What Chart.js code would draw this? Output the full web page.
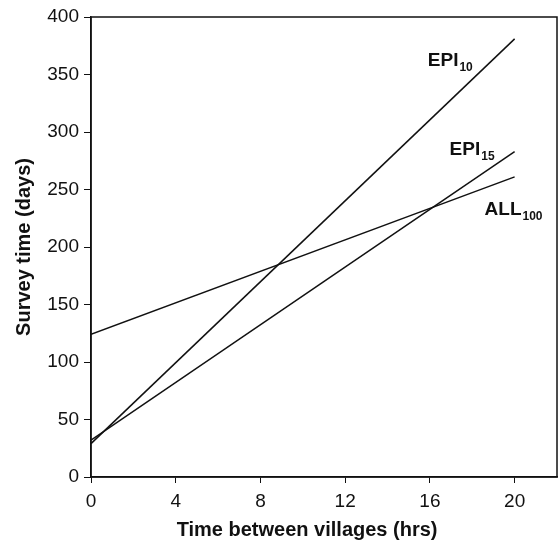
<!DOCTYPE html>
<html>
<head>
<meta charset="utf-8">
<script src="https://cdn.jsdelivr.net/npm/chart.js@4.4.0/dist/chart.umd.min.js"></script>
<style>
  html, body { margin: 0; padding: 0; background: #fff; }
  #wrap { width: 559px; height: 544px; }
</style>
</head>
<body>
<div id="wrap"><canvas id="surveyChart" width="559" height="544"></canvas></div>
<script>
// values
const hours = [0, 20];
const epi10 = [29, 381];
const epi15 = [32, 283];
const all100 = [124, 261];

const xTicks = [0, 4, 8, 12, 16, 20];
const yTicks = [0, 50, 100, 150, 200, 250, 300, 350, 400];

// line labels: main text, subscript, and where they sit (data units)
const lineLabels = [
    { text: "EPI", sub: "10", x: 15.9, y: 357 },
    { text: "EPI", sub: "15", x: 16.93, y: 280 },
    { text: "ALL", sub: "100", x: 18.58, y: 228 }
];

const xTitle = "Time between villages (hrs)";
const yTitle = "Survey time (days)";

const FONT = "'Liberation Sans', Arial, Helvetica, sans-serif";

function toPoints(ys) {
    return hours.map((h, i) => ({ x: h, y: ys[i] }));
}

// box around the plot, the line labels and the x title
const boxAndLabels = {
    id: "boxAndLabels",
    afterDatasetsDraw(chart) {
        const { ctx, chartArea, scales } = chart;
        ctx.save();
        ctx.strokeStyle = "#111";
        ctx.lineWidth = 1.5;
        ctx.strokeRect(chartArea.left, chartArea.top, chartArea.right - chartArea.left, chartArea.bottom - chartArea.top);

        ctx.fillStyle = "#111";
        ctx.textBaseline = "alphabetic";
        ctx.textAlign = "left";
        lineLabels.forEach(lb => {
            const px = scales.x.getPixelForValue(lb.x);
            const py = scales.y.getPixelForValue(lb.y);
            ctx.font = "bold 19px " + FONT;
            ctx.fillText(lb.text, px, py);
            const w = ctx.measureText(lb.text).width;
            ctx.font = "bold 12px " + FONT;
            ctx.fillText(lb.sub, px + w + 1, py + 5);
        });

        // x title sits a bit left of the plot centre in the original
        ctx.font = "bold 20px " + FONT;
        ctx.textAlign = "center";
        ctx.textBaseline = "middle";
        ctx.fillText(xTitle, scales.x.getPixelForValue(10.2), chartArea.bottom + 53);
        ctx.restore();
    }
};

const lineStyle = { borderColor: "#111", borderWidth: 1.5, pointRadius: 0, showLine: true, fill: false };

new Chart(document.getElementById("surveyChart"), {
    type: "scatter",
    data: {
        datasets: [
            Object.assign({ label: "EPI10", data: toPoints(epi10) }, lineStyle),
            Object.assign({ label: "EPI15", data: toPoints(epi15) }, lineStyle),
            Object.assign({ label: "ALL100", data: toPoints(all100) }, lineStyle)
        ]
    },
    options: {
        responsive: false,
        animation: false,
        layout: { padding: { top: 17, right: 2, left: 0, bottom: 0 } },
        plugins: { legend: { display: false }, tooltip: { enabled: false } },
        scales: {
            x: {
                type: "linear",
                min: 0,
                max: 22,
                afterBuildTicks: scale => { scale.ticks = xTicks.map(v => ({ value: v })); },
                afterFit: scale => { scale.height = 67; },
                grid: { display: true, drawOnChartArea: false, tickLength: 6, color: "#111", lineWidth: 1 },
                border: { display: true, color: "#111", width: 1.5 },
                ticks: { color: "#111", font: { family: FONT, size: 19 }, padding: 7, maxRotation: 0 },
                title: { display: false }
            },
            y: {
                type: "linear",
                min: 0,
                max: 400,
                afterBuildTicks: scale => { scale.ticks = yTicks.map(v => ({ value: v })); },
                afterFit: scale => { scale.width = 91; },
                grid: { display: true, drawOnChartArea: false, tickLength: 7, color: "#111", lineWidth: 1 },
                border: { display: true, color: "#111", width: 1.5 },
                ticks: { color: "#111", font: { family: FONT, size: 19 }, padding: 5 },
                title: { display: true, text: yTitle, color: "#111", font: { family: FONT, size: 20, weight: "bold" }, padding: { top: 12, bottom: 4 } }
            }
        }
    },
    plugins: [boxAndLabels]
});
</script>
</body>
</html>
